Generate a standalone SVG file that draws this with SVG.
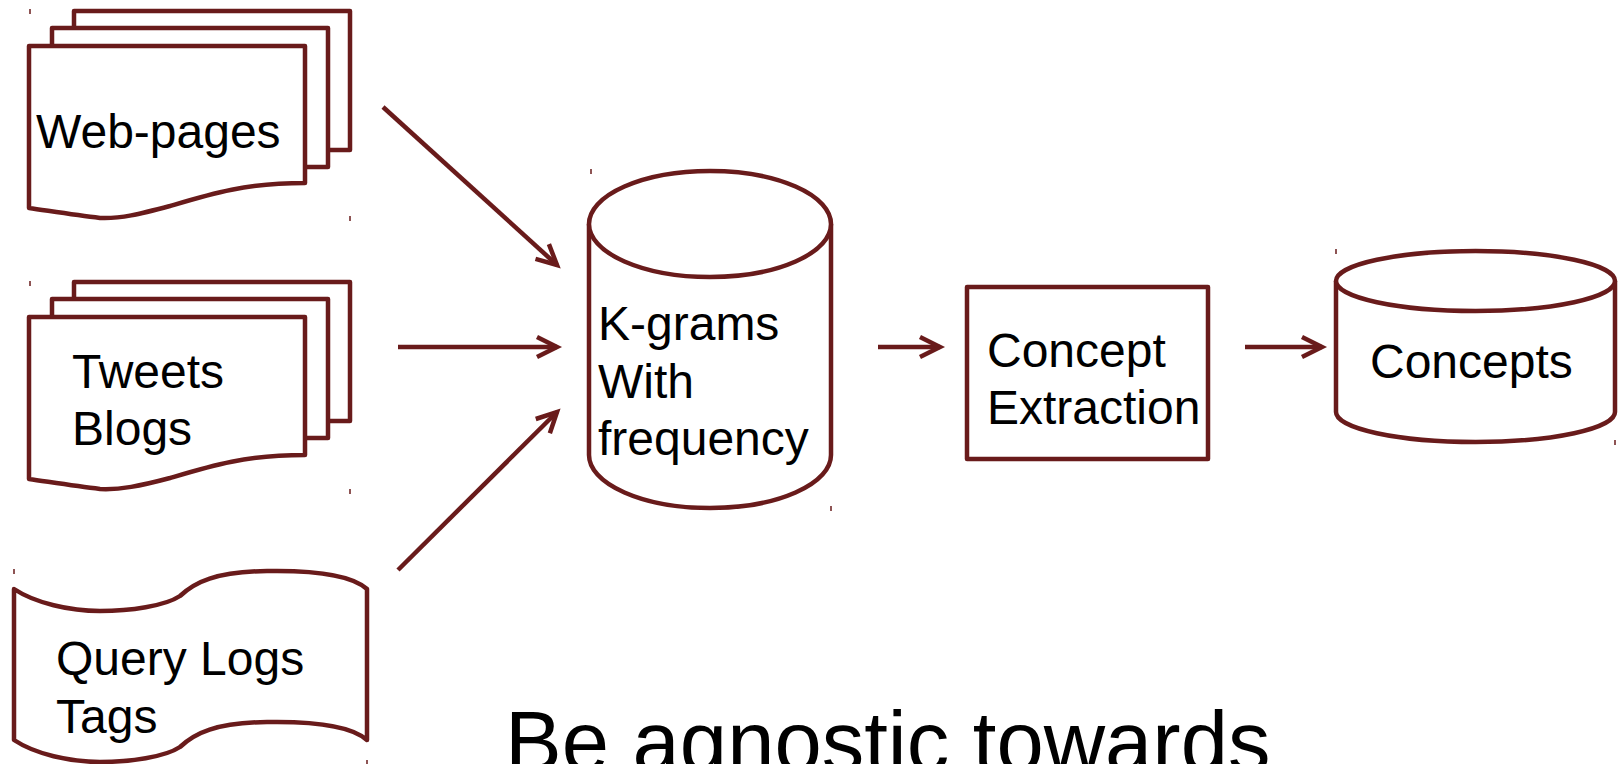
<svg xmlns="http://www.w3.org/2000/svg" width="1620" height="764" viewBox="0 0 1620 764">
  <style>
    .shape { fill: #ffffff; stroke: #691b1b; stroke-width: 4.5; stroke-linejoin: round; }
    .conn { fill: none; stroke: #691b1b; stroke-width: 4.5; }
    .mark { stroke: #691b1b; stroke-width: 1.5; }
    .label { font-family: "Liberation Sans", Arial, sans-serif; font-size: 48px; fill: #000000; }
    .caption { font-family: "Liberation Sans", Arial, sans-serif; font-size: 85px; fill: #000000; }
  </style>
  <defs>
    <marker id="chevron" viewBox="-26 -14 32 28" markerWidth="32" markerHeight="28" refX="0" refY="0" markerUnits="userSpaceOnUse" orient="auto">
      <path d="M-20,-10 L0,0 L-20,10" fill="none" stroke="#691b1b" stroke-width="4.5"/>
    </marker>
  </defs>

  <rect width="1620" height="764" fill="#ffffff"/>

  <!-- stacked documents: web pages -->
  <g id="web-pages">
    <rect class="shape" x="74" y="11" width="276" height="139"/>
    <rect class="shape" x="52" y="28" width="276" height="139"/>
    <path class="shape" d="M29,208 L29,46 L305,46 L305,183 C245,183 210,194 170,206 C140,214 120,219 100,218 C75,215 50,211 29,208 Z"/>
    <text class="label" x="36" y="148">Web-pages</text>
  </g>

  <!-- stacked documents: tweets and blogs -->
  <g id="tweets-blogs" transform="translate(0,271)">
    <rect class="shape" x="74" y="11" width="276" height="139"/>
    <rect class="shape" x="52" y="28" width="276" height="139"/>
    <path class="shape" d="M29,208 L29,46 L305,46 L305,184 C245,184 210,195 170,207 C140,215 120,219 100,218 C75,215 50,211 29,208 Z"/>
    <text class="label" x="72" y="117">Tweets</text>
    <text class="label" x="72" y="174">Blogs</text>
  </g>

  <!-- punched tape: query logs and tags -->
  <g id="query-logs">
    <path class="shape" d="M14,589 C35,603 70,611 100,611 C130,611 165,606 180,596 C195,582 215,572 267,571 C325,570 355,578 367,589 L367,740 C355,729 325,721 267,722 C215,723 195,733 180,747 C165,757 130,762 100,762 C70,762 35,754 14,740 Z"/>
    <text class="label" x="56" y="675">Query Logs</text>
    <text class="label" x="56" y="733">Tags</text>
  </g>

  <!-- k-gram store -->
  <g id="kgrams">
    <path class="shape" d="M589,224 L589,455 A121,53 0 0 0 831,455 L831,224"/>
    <ellipse class="shape" cx="710" cy="224" rx="121" ry="53"/>
    <text class="label" x="598" y="340">K-grams</text>
    <text class="label" x="598" y="398">With</text>
    <text class="label" x="598" y="455">frequency</text>
  </g>

  <!-- extraction step -->
  <g id="concept-extraction">
    <rect class="shape" x="967" y="287" width="241" height="172"/>
    <text class="label" x="987" y="367">Concept</text>
    <text class="label" x="987" y="424">Extraction</text>
  </g>

  <!-- concept store -->
  <g id="concepts">
    <path class="shape" d="M1336,281 L1336,412 A139.5,30 0 0 0 1615,412 L1615,281"/>
    <ellipse class="shape" cx="1475.5" cy="281" rx="139.5" ry="30"/>
    <text class="label" x="1370" y="378">Concepts</text>
  </g>

  <!-- connectors -->
  <g id="connectors">
    <line class="conn" x1="383" y1="107" x2="557" y2="265" marker-end="url(#chevron)"/>
    <line class="conn" x1="398" y1="347" x2="557" y2="347" marker-end="url(#chevron)"/>
    <line class="conn" x1="398" y1="570" x2="557" y2="412" marker-end="url(#chevron)"/>
    <line class="conn" x1="878" y1="347" x2="940" y2="347" marker-end="url(#chevron)"/>
    <line class="conn" x1="1245" y1="347" x2="1322" y2="347" marker-end="url(#chevron)"/>
  </g>

  <!-- corner handles -->
  <g id="handles">
    <line class="mark" x1="30" y1="9" x2="30" y2="14"/>
    <line class="mark" x1="350" y1="216" x2="350" y2="221"/>
    <line class="mark" x1="30" y1="281" x2="30" y2="286"/>
    <line class="mark" x1="350" y1="489" x2="350" y2="494"/>
    <line class="mark" x1="14" y1="569" x2="14" y2="574"/>
    <line class="mark" x1="367" y1="760" x2="367" y2="764"/>
    <line class="mark" x1="591" y1="169" x2="591" y2="174"/>
    <line class="mark" x1="831" y1="506" x2="831" y2="511"/>
    <line class="mark" x1="1336" y1="249" x2="1336" y2="254"/>
    <line class="mark" x1="1615" y1="440" x2="1615" y2="445"/>
  </g>

  <text class="caption" x="505" y="771">Be agnostic towards</text>
</svg>
